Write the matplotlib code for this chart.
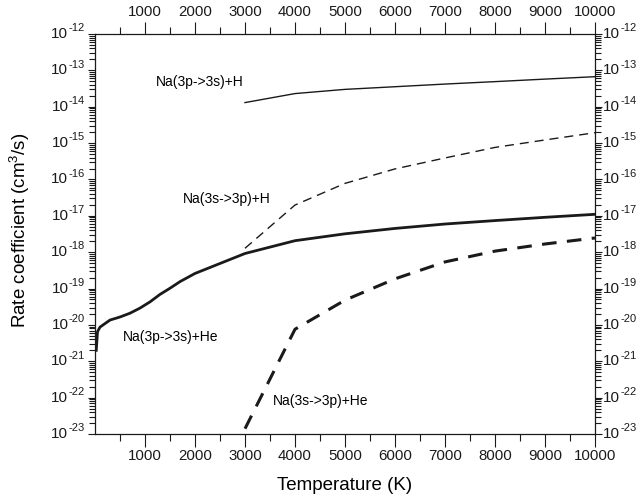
import matplotlib
matplotlib.use("Agg")
import matplotlib.pyplot as plt
from matplotlib.ticker import FixedLocator, LogLocator, NullFormatter
import numpy as np

plt.rcParams['font.family'] = ['Liberation Sans', 'DejaVu Sans']
plt.rcParams['mathtext.fontset'] = 'custom'
plt.rcParams['mathtext.rm'] = 'Liberation Sans'
plt.rcParams['mathtext.it'] = 'Liberation Sans:italic'
plt.rcParams['lines.scale_dashes'] = False

# Data
T_h_quench = [3000, 4000, 5000, 6000, 7000, 8000, 9000, 10000]
k_h_quench = [1.3e-14, 2.3e-14, 3.0e-14, 3.55e-14, 4.2e-14, 4.9e-14, 5.75e-14, 6.7e-14]

T_h_excite = [3000, 4000, 5000, 6000, 7000, 8000, 9000, 10000]
k_h_excite = [1.28e-18, 1.98e-17, 7.8e-17, 1.95e-16, 3.9e-16, 7.6e-16, 1.22e-15, 1.93e-15]

T_he_quench = [25, 50, 100, 300, 500, 700, 900, 1100, 1300, 1500, 1700, 2000,
               3000, 4000, 5000, 6000, 7000, 8000, 9000, 10000]
k_he_quench = [2.0e-21, 6.5e-21, 8.7e-21, 1.36e-20, 1.65e-20, 2.1e-20, 2.9e-20, 4.3e-20,
               6.9e-20, 1.02e-19, 1.55e-19, 2.6e-19,
               9.2e-19, 2.07e-18, 3.2e-18, 4.5e-18, 5.95e-18, 7.4e-18, 9.1e-18, 1.1e-17]

T_he_excite = [3000, 4000, 5000, 6000, 7000, 8000, 9000, 10000]
k_he_excite = [1.4e-23, 7.6e-21, 4.8e-20, 1.85e-19, 5.4e-19, 1.07e-18, 1.68e-18, 2.46e-18]

labels = ["Na(3p->3s)+H", "Na(3s->3p)+H", "Na(3p->3s)+He", "Na(3s->3p)+He"]

x_major = [1000, 2000, 3000, 4000, 5000, 6000, 7000, 8000, 9000, 10000]
x_minor = [500, 1500, 2500, 3500, 4500, 5500, 6500, 7500, 8500, 9500]
y_exps = list(range(-23, -11))

ink = '#1a1a1a'
fig = plt.figure(figsize=(6.38, 5.0), dpi=100)
ax = fig.add_axes([95/638, 1-434/500, 500/638, 400/500])

ax.plot(T_h_quench, k_h_quench, color=ink, lw=1.0)
ax.plot(T_h_excite, k_h_excite, color=ink, lw=1.0, dashes=(6.5, 4.3))
ax.plot(T_he_quench, k_he_quench, color=ink, lw=2.0)
ax.plot(T_he_excite, k_he_excite, color=ink, lw=2.2, dashes=(10.5, 7.5))

ax.set_yscale('log')
ax.set_xlim(0, 10000)
ax.set_ylim(1e-23, 1e-12)

ax.xaxis.set_major_locator(FixedLocator(x_major))
ax.xaxis.set_minor_locator(FixedLocator(x_minor))
ax.set_xticklabels([str(v) for v in x_major])

ax.yaxis.set_major_locator(FixedLocator([10.0**e for e in y_exps]))
ax.yaxis.set_minor_locator(LogLocator(base=10, subs=np.arange(2, 10), numticks=50))
ax.yaxis.set_minor_formatter(NullFormatter())

ax.tick_params(axis='both', which='both', direction='out', top=True, right=True,
               colors=ink, width=0.8)
ax.tick_params(axis='x', which='major', length=9, labelsize=10.8, pad=2,
               labeltop=True)
ax.tick_params(axis='x', which='minor', length=5)
ax.tick_params(axis='y', which='major', length=5, labelleft=False, labelright=False)
ax.tick_params(axis='y', which='minor', length=4)

# y tick labels: "10" with a small raised exponent, both sides
for e in y_exps:
    yv = 10.0 ** e
    ex = ax.annotate('-%d' % (-e), xy=(0, yv), xycoords=('axes fraction', 'data'),
                     xytext=(-7.5, 4.1), textcoords='offset points',
                     ha='right', va='center', fontsize=8, color=ink,
                     annotation_clip=False)
    ax.annotate('10', xy=(0, 0.5), xycoords=ex, xytext=(0, -4.1),
                textcoords='offset points', ha='right', va='center',
                fontsize=11, color=ink, annotation_clip=False)
    tn = ax.annotate('10', xy=(1, yv), xycoords=('axes fraction', 'data'),
                     xytext=(6, 0), textcoords='offset points',
                     ha='left', va='center', fontsize=11, color=ink,
                     annotation_clip=False)
    ax.annotate('-%d' % (-e), xy=(1, 0.5), xycoords=tn, xytext=(0, 4.1),
                textcoords='offset points', ha='left', va='center',
                fontsize=8, color=ink, annotation_clip=False)

for s in ax.spines.values():
    s.set_linewidth(0.9)
    s.set_color(ink)

ax.set_xlabel('Temperature (K)', fontsize=13.5)
ax.set_ylabel(r'Rate coefficient (cm$^{3}$/s)', fontsize=13.5)
ax.xaxis.set_label_coords(0.5, -0.108)
ax.yaxis.set_label_coords(-0.125, 0.51)

ax.text(1214, 4.9e-14, labels[0], fontsize=10, ha='left', va='center')
ax.text(1754, 2.9e-17, labels[1], fontsize=10, ha='left', va='center')
ax.text(554, 4.6e-21, labels[2], fontsize=10, ha='left', va='center')
ax.text(3554, 8.2e-23, labels[3], fontsize=10, ha='left', va='center')

fig.savefig('out.png', dpi=100)
